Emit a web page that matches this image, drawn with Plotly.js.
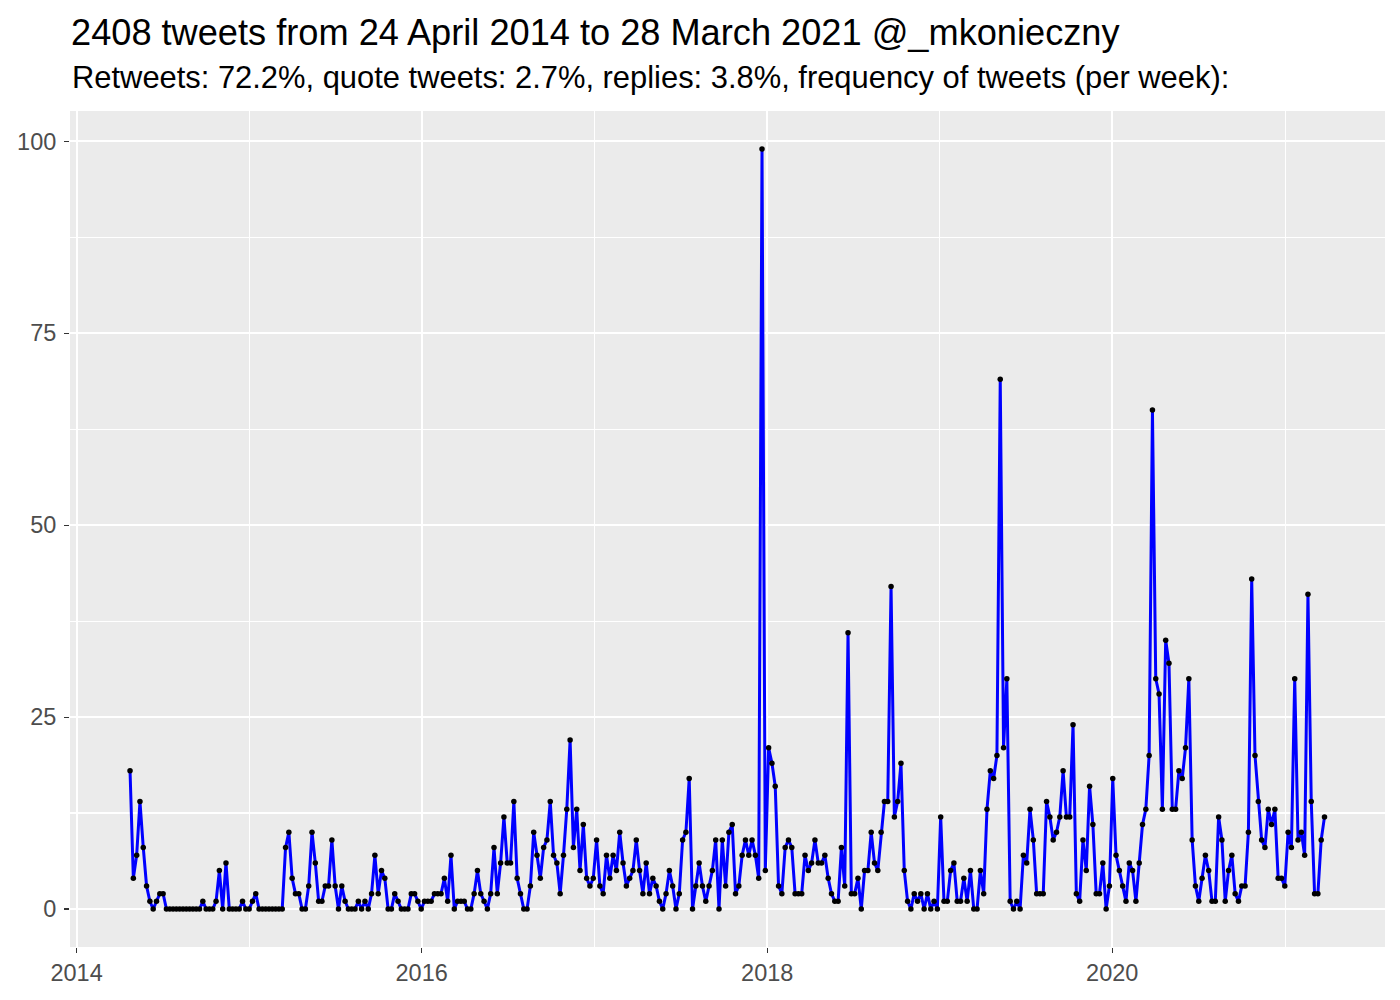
<!DOCTYPE html>
<html>
<head>
<meta charset="utf-8">
<script src="https://cdn.plot.ly/plotly-3.0.1.min.js"></script>
<style>html,body{margin:0;padding:0;background:#fff;}#chart{width:1400px;height:1000px;}</style>
</head>
<body>
<div id="chart"></div>
<script>
// Weekly tweet counts, first week starting 24 April 2014
const startDate = "2014-04-24";
const weeklyTweets = [
  18, 4, 7, 14, 8, 3, 1, 0, 1, 2, 2, 0, 0, 0, 0, 0, 0, 0, 0, 0,
  0, 0, 1, 0, 0, 0, 1, 5, 0, 6, 0, 0, 0, 0, 1, 0, 0, 1, 2, 0,
  0, 0, 0, 0, 0, 0, 0, 8, 10, 4, 2, 2, 0, 0, 3, 10, 6, 1, 1, 3,
  3, 9, 3, 0, 3, 1, 0, 0, 0, 1, 0, 1, 0, 2, 7, 2, 5, 4, 0, 0,
  2, 1, 0, 0, 0, 2, 2, 1, 0, 1, 1, 1, 2, 2, 2, 4, 1, 7, 0, 1,
  1, 1, 0, 0, 2, 5, 2, 1, 0, 2, 8, 2, 6, 12, 6, 6, 14, 4, 2, 0,
  0, 3, 10, 7, 4, 8, 9, 14, 7, 6, 2, 7, 13, 22, 8, 13, 5, 11, 4, 3,
  4, 9, 3, 2, 7, 4, 7, 5, 10, 6, 3, 4, 5, 9, 5, 2, 6, 2, 4, 3,
  1, 0, 2, 5, 3, 0, 2, 9, 10, 17, 0, 3, 6, 3, 1, 3, 5, 9, 0, 9,
  3, 10, 11, 2, 3, 7, 9, 7, 9, 7, 4, 99, 5, 21, 19, 16, 3, 2, 8, 9,
  8, 2, 2, 2, 7, 5, 6, 9, 6, 6, 7, 4, 2, 1, 1, 8, 3, 36, 2, 2,
  4, 0, 5, 5, 10, 6, 5, 10, 14, 14, 42, 12, 14, 19, 5, 1, 0, 2, 1, 2,
  0, 2, 0, 1, 0, 12, 1, 1, 5, 6, 1, 1, 4, 1, 5, 0, 0, 5, 2, 13,
  18, 17, 20, 69, 21, 30, 1, 0, 1, 0, 7, 6, 13, 9, 2, 2, 2, 14, 12, 9,
  10, 12, 18, 12, 12, 24, 2, 1, 9, 5, 16, 11, 2, 2, 6, 0, 3, 17, 7, 5,
  3, 1, 6, 5, 1, 6, 11, 13, 20, 65, 30, 28, 13, 35, 32, 13, 13, 18, 17, 21,
  30, 9, 3, 1, 4, 7, 5, 1, 1, 12, 9, 1, 5, 7, 2, 1, 3, 3, 10, 43,
  20, 14, 9, 8, 13, 11, 13, 4, 4, 3, 10, 8, 30, 9, 10, 7, 41, 14, 2, 2,
  9, 12
];
const yTicks = [0, 25, 50, 75, 100];
const xTickVals = ["2014-01-01", "2016-01-01", "2018-01-01", "2020-01-01"];
const xTickText = ["2014", "2016", "2018", "2020"];
const titleText = "2408 tweets from 24 April 2014 to 28 March 2021 @_mkonieczny";
const subtitleText = "Retweets: 72.2%, quote tweets: 2.7%, replies: 3.8%, frequency of tweets (per week):";

const DAY = 86400000;
const t0 = Date.parse(startDate + "T00:00:00Z");
const weeks = weeklyTweets.map((_, i) => new Date(t0 + i * 7 * DAY).toISOString().slice(0, 10));

const font = "Liberation Sans, Arial, Helvetica, sans-serif";

const trace = {
  type: "scatter",
  mode: "lines+markers",
  x: weeks,
  y: weeklyTweets,
  line: {color: "#0000FF", width: 3},
  marker: {color: "#000000", size: 5.5},
  hoverinfo: "x+y"
};

const layout = {
  width: 1400,
  height: 1000,
  paper_bgcolor: "#FFFFFF",
  plot_bgcolor: "#EBEBEB",
  margin: {l: 70, r: 15, t: 111, b: 53},
  showlegend: false,
  font: {family: font, color: "#4D4D4D"},
  title: {
    text: titleText,
    font: {family: font, size: 36.2, color: "#000000"},
    xref: "container", x: 71 / 1400, xanchor: "left",
    yref: "container", y: 1 - 32 / 1000, yanchor: "middle"
  },
  annotations: [{
    text: subtitleText,
    xref: "paper", x: 0, xanchor: "left",
    yref: "paper", y: 1, yanchor: "bottom", yshift: 14,
    showarrow: false,
    font: {family: font, size: 30.9, color: "#000000"}
  }],
  xaxis: {
    type: "date",
    range: ["2013-12-18", "2021-07-31"],
    tickvals: xTickVals,
    ticktext: xTickText,
    showgrid: true, gridcolor: "#FFFFFF", gridwidth: 2.2,
    minor: {dtick: "M24", tick0: "2015-01-01", showgrid: true, gridcolor: "#FFFFFF", gridwidth: 1.1, ticks: ""},
    zeroline: false, showline: false,
    ticks: "outside", ticklen: 5, tickwidth: 1.1, tickcolor: "#333333",
    tickfont: {family: font, size: 23.5, color: "#4D4D4D"}
  },
  yaxis: {
    range: [-4.95, 103.95],
    tickvals: yTicks,
    showgrid: true, gridcolor: "#FFFFFF", gridwidth: 2.2,
    minor: {dtick: 12.5, tick0: 12.5, showgrid: true, gridcolor: "#FFFFFF", gridwidth: 1.1, ticks: ""},
    zeroline: false, showline: false,
    ticks: "outside", ticklen: 5, tickwidth: 1.1, tickcolor: "#333333",
    ticklabelstandoff: 3,
    tickfont: {family: font, size: 23.5, color: "#4D4D4D"}
  }
};

Plotly.newPlot("chart", [trace], layout, {displayModeBar: false, staticPlot: true});
</script>
</body>
</html>
